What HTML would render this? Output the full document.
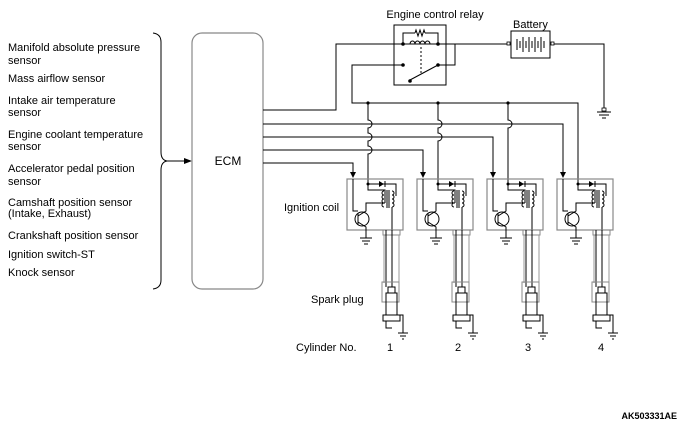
<!DOCTYPE html>
<html><head><meta charset="utf-8"><style>
html,body{margin:0;padding:0;background:#fff;}
svg{display:block;}
text{font-family:"Liberation Sans",sans-serif;fill:#000;}
</style></head><body>
<svg width="686" height="428" viewBox="0 0 686 428" xmlns="http://www.w3.org/2000/svg">
<defs>
<g id="coil">
  <rect x="347" y="179" width="56" height="51" fill="none" stroke="#888" stroke-width="1.2"/>
  <!-- signal into base -->
  <polyline points="353,179 353,211 358,211" fill="none" stroke="#000"/>
  <circle cx="362" cy="219" r="7" fill="none" stroke="#000"/>
  <line x1="358" y1="213" x2="358" y2="225" stroke="#000"/>
  <polyline points="358,216 366,211 366,203 385,203" fill="none" stroke="#000"/>
  <polyline points="358,222 366,227 366,238" fill="none" stroke="#000"/>
  <line x1="360" y1="238" x2="372" y2="238" stroke="#000"/>
  <line x1="362" y1="241" x2="370" y2="241" stroke="#000"/>
  <line x1="364" y1="244" x2="368" y2="244" stroke="#000"/>
  <!-- power -->
  <polyline points="368,184 368,190 385,190 385,203" fill="none" stroke="#000"/>
  <circle cx="368" cy="184" r="1.5" fill="#000"/>
  <polyline points="368,184 396,184 396,196" fill="none" stroke="#000"/>
  <polygon points="379,181 379,187 384,184" fill="#000"/>
  <line x1="385" y1="181" x2="385" y2="187" stroke="#000"/>
  <!-- windings -->
  <path d="M384,191 a2,2 0 0 0 0,4 a2,2 0 0 0 0,4 a2,2 0 0 0 0,4 a2,2 0 0 0 0,4" fill="none" stroke="#000"/>
  <path d="M392,191 a2,2 0 0 1 0,4 a2,2 0 0 1 0,4 a2,2 0 0 1 0,4 a2,2 0 0 1 0,4" fill="none" stroke="#000"/>
  <line x1="387" y1="190" x2="387" y2="208" stroke="#000"/>
  <line x1="389" y1="190" x2="389" y2="208" stroke="#000"/>
  <polyline points="392,207 392,230" fill="none" stroke="#000"/>
  <!-- tube -->
  <rect x="383" y="230" width="17" height="5" fill="none" stroke="#888"/>
  <line x1="384" y1="235" x2="384" y2="283" stroke="#999"/>
  <line x1="399" y1="235" x2="399" y2="283" stroke="#999"/>
  <line x1="386" y1="230" x2="386" y2="287" stroke="#000"/>
  <line x1="392" y1="230" x2="392" y2="287" stroke="#000"/>
  <!-- plug -->
  <rect x="382" y="282" width="17" height="20" fill="none" stroke="#888"/>
  <rect x="388" y="287" width="7" height="6" fill="none" stroke="#000"/>
  <rect x="386" y="293" width="11" height="22" fill="none" stroke="#000"/>
  <rect x="383" y="315" width="17" height="6" fill="none" stroke="#000"/>
  <polyline points="386,321 386,328 392,328" fill="none" stroke="#000"/>
  <polyline points="397,315 403,315 403,333" fill="none" stroke="#000"/>
  <line x1="398" y1="333" x2="408" y2="333" stroke="#000"/>
  <line x1="400" y1="336" x2="406" y2="336" stroke="#000"/>
  <line x1="402" y1="339" x2="404" y2="339" stroke="#000"/>
  <polygon points="350,172 356,172 353,178" fill="#000"/>
</g>
</defs>

<!-- left labels -->
<g font-size="11">
<text x="8" y="51">Manifold absolute pressure</text>
<text x="8" y="64">sensor</text>
<text x="8" y="82">Mass airflow sensor</text>
<text x="8" y="104">Intake air temperature</text>
<text x="8" y="116">sensor</text>
<text x="8" y="138">Engine coolant temperature</text>
<text x="8" y="150">sensor</text>
<text x="8" y="172">Accelerator pedal position</text>
<text x="8" y="185">sensor</text>
<text x="8" y="206">Camshaft position sensor</text>
<text x="8" y="217">(Intake, Exhaust)</text>
<text x="8" y="239">Crankshaft position sensor</text>
<text x="8" y="258">Ignition switch-ST</text>
<text x="8" y="276">Knock sensor</text>
</g>
<!-- brace -->
<path d="M153,33 Q161,34 161,42 L161,152 Q161,160 167,161 Q161,162 161,170 L161,280 Q161,288 153,289" fill="none" stroke="#000"/>
<line x1="167" y1="161" x2="186" y2="161" stroke="#000"/>
<polygon points="184,158 192,161 184,164" fill="#000"/>

<!-- ECM -->
<rect x="192" y="33" width="71" height="256" rx="10" fill="none" stroke="#888" stroke-width="1.2"/>
<text x="228" y="165" font-size="12" text-anchor="middle">ECM</text>

<!-- ECM wires -->
<g stroke="#000" fill="none">
<polyline points="263,110 336,110 336,44 511,44"/>
<polyline points="263,124 563,124 563,172"/>
<polyline points="263,137 493,137 493,172"/>
<polyline points="263,150 423,150 423,172"/>
<polyline points="263,163 353,163 353,172"/>
<!-- power bus -->
<polyline points="403,65 352,65 352,103 578,103 578,184"/>
<path d="M368,103 L368,120 a4,4 0 0 1 0,8 L368,133 a4,4 0 0 1 0,8 L368,146 a4,4 0 0 1 0,8 L368,184"/>
<path d="M438,103 L438,120 a4,4 0 0 1 0,8 L438,133 a4,4 0 0 1 0,8 L438,184"/>
<path d="M508,103 L508,120 a4,4 0 0 1 0,8 L508,184"/>
</g>
<circle cx="368" cy="103" r="1.6" fill="#000"/>
<circle cx="438" cy="103" r="1.6" fill="#000"/>
<circle cx="508" cy="103" r="1.6" fill="#000"/>

<!-- relay -->
<text x="435" y="18" font-size="11" text-anchor="middle">Engine control relay</text>
<rect x="394" y="25" width="52" height="60" fill="none" stroke="#000"/>
<g stroke="#000" fill="none">
<polyline points="403,44 403,33 415,33"/>
<path d="M415,33 l1,-3 l2,6 l2,-6 l2,6 l2,-6 l1,3"/>
<polyline points="425,33 438,33 438,44"/>
<path d="M410,44 a2.5,3 0 0 1 5,0 a2.5,3 0 0 1 5,0 a2.5,3 0 0 1 5,0 a2.5,3 0 0 1 5,0"/>
<line x1="421" y1="47" x2="421" y2="74" stroke-dasharray="2,2"/>
<line x1="410" y1="80" x2="438" y2="65"/>
<polyline points="438,65 455,65 455,44"/>
<line x1="446" y1="44" x2="511" y2="44"/>
</g>
<circle cx="403" cy="44" r="1.8" fill="#000"/>
<circle cx="438" cy="44" r="1.8" fill="#000"/>
<circle cx="403" cy="65" r="1.8" fill="#000"/>
<circle cx="438" cy="65" r="1.8" fill="#000"/>
<circle cx="410" cy="81" r="1.8" fill="#000"/>

<!-- battery -->
<text x="513" y="28" font-size="11">Battery</text>
<rect x="511" y="31" width="39" height="27" fill="none" stroke="#000"/>
<g stroke="#000">
<line x1="517" y1="39" x2="517" y2="50"/><line x1="520" y1="41" x2="520" y2="48"/>
<line x1="523" y1="37" x2="523" y2="52"/><line x1="526" y1="41" x2="526" y2="48"/>
<line x1="529" y1="37" x2="529" y2="52"/><line x1="532" y1="41" x2="532" y2="48"/>
<line x1="535" y1="37" x2="535" y2="52"/><line x1="538" y1="41" x2="538" y2="48"/>
<line x1="541" y1="37" x2="541" y2="52"/><line x1="544" y1="41" x2="544" y2="48"/>
</g>
<rect x="507" y="42" width="3" height="3" fill="#fff" stroke="#000" stroke-width="0.8"/>
<rect x="551" y="42" width="3" height="3" fill="#fff" stroke="#000" stroke-width="0.8"/>
<polyline points="554,44 604,44 604,110" fill="none" stroke="#000"/>
<rect x="602" y="108" width="4" height="3" fill="#fff" stroke="#000" stroke-width="0.8"/>
<line x1="597" y1="112" x2="611" y2="112" stroke="#000"/>
<line x1="599" y1="115" x2="609" y2="115" stroke="#000"/>
<line x1="602" y1="118" x2="606" y2="118" stroke="#000"/>

<!-- coils -->
<use href="#coil"/>
<use href="#coil" transform="translate(70,0)"/>
<use href="#coil" transform="translate(140,0)"/>
<use href="#coil" transform="translate(210,0)"/>

<text x="284" y="211" font-size="11">Ignition coil</text>
<text x="311" y="303" font-size="11">Spark plug</text>
<text x="296" y="351" font-size="11">Cylinder No.</text>
<g font-size="11" text-anchor="middle">
<text x="390" y="351">1</text><text x="458" y="351">2</text>
<text x="528" y="351">3</text><text x="601" y="351">4</text>
</g>
<text x="677" y="419" font-size="9" font-weight="bold" text-anchor="end">AK503331AE</text>
</svg>
</body></html>
